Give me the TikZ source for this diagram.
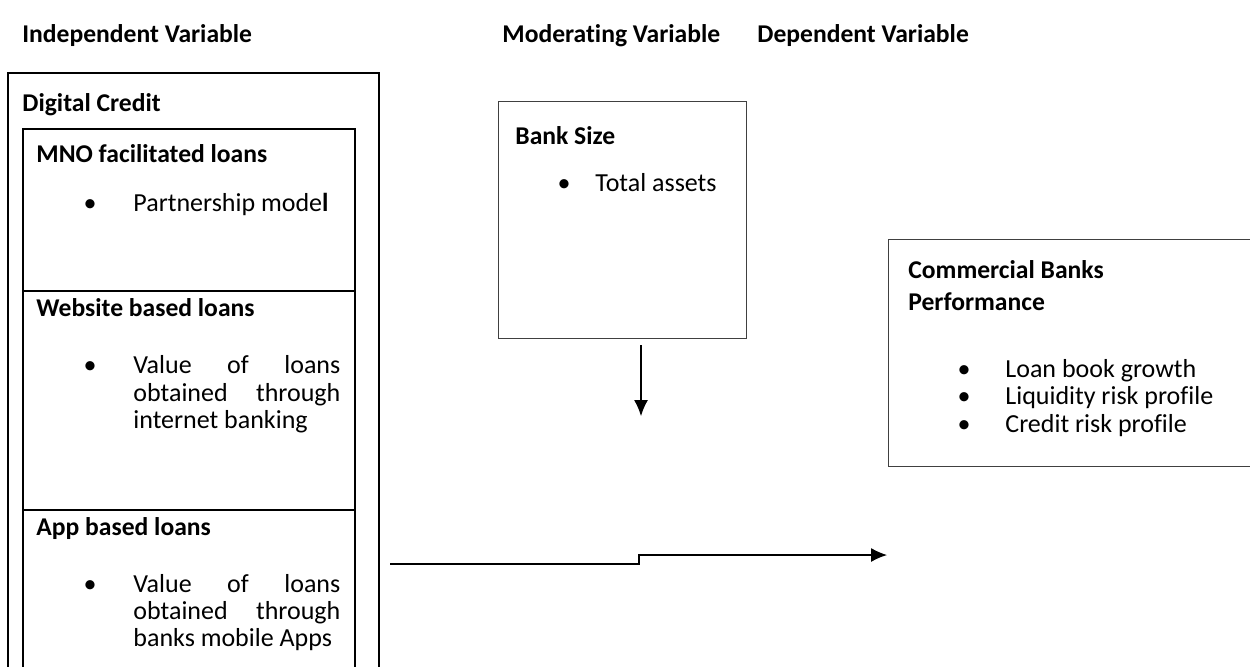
\documentclass[tikz,border=0pt]{standalone}
\usepackage{fontspec}
\setmainfont{Carlito}[Ligatures=NoCommon]
\usetikzlibrary{arrows.meta,positioning}
\newcommand{\jline}[1]{\makebox[103.5pt][s]{#1}}

\begin{document}
\begin{tikzpicture}[x=0.5pt,y=-0.5pt,
  txt/.style={anchor=base west,inner sep=0pt,font=\fontsize{13}{14}\selectfont},
  head/.style={txt,font=\fontsize{12.8}{14}\selectfont\bfseries},
  bul/.style={anchor=base,inner sep=0pt,font=\fontsize{13}{14}\selectfont},
  frame/.style={draw,line width=1pt,anchor=north west,inner sep=0pt},
  panel/.style={draw=black!75,line width=0.6pt,anchor=north west,inner sep=0pt},
  link/.style={line width=0.6pt,-{Latex[length=8pt,width=7pt]}}]
\useasboundingbox (0,0) rectangle (1250,666);
\clip (0,0) rectangle (1250,666);
%headings
  \node[head] (indep) at (22,42) {Independent Variable};
  \node[head] (moder) at (502,42) {Moderating Variable};
  \node[head] (dep) at (757,42) {Dependent Variable};
%digital credit
  \node[frame,minimum width=185.5pt,minimum height=320pt] (digital) at (7,72) {};
  \node[head] (digital-t) at (22,111) {Digital Credit};
  \node[frame,minimum width=166pt,minimum height=81pt] (mno) at (22,128) {};
  \node[frame,minimum width=166pt,minimum height=109.5pt] (web) at (22,290) {};
  \node[frame,minimum width=166pt,minimum height=100pt] (app) at (22,509) {};
%mno
  \node[head] (mno-t) at (36,162) {MNO facilitated loans};
  \node[bul] at (90,211) {\textbullet};
  \node[txt] (mno-1) at (133,211) {Partnership mode\textbf{l}};
%website
  \node[head] (web-t) at (36,316) {Website based loans};
  \node[bul] at (90,373) {\textbullet};
  \node[txt] (web-1) at (133,373) {\jline{Value of loans}};
  \node[txt] (web-2) at (133,401) {\jline{obtained through}};
  \node[txt] (web-3) at (133,428) {internet banking};
%app
  \node[head] (app-t) at (36,535) {App based loans};
  \node[bul] at (90,592) {\textbullet};
  \node[txt] (app-1) at (133,592) {\jline{Value of loans}};
  \node[txt] (app-2) at (133,619) {\jline{obtained through}};
  \node[txt] (app-3) at (133,646) {banks mobile Apps};
%bank size
  \node[panel,minimum width=124pt,minimum height=118.5pt] (bank) at (498,101) {};
  \node[head] (bank-t) at (515,144) {Bank Size};
  \node[bul] at (564,191) {\textbullet};
  \node[txt] (bank-1) at (595,191) {Total assets};
%performance
  \node[panel,minimum width=200pt,minimum height=113.5pt] (perf) at (888,239) {};
  \node[head] (perf-t1) at (908,278) {Commercial Banks};
  \node[head] (perf-t2) at (908,310) {Performance};
  \foreach \t [count=\i] in {Loan book growth, Liquidity risk profile, Credit risk profile} {
    \node[bul] at (964,{377+27.5*(\i-1)}) {\textbullet};
    \node[txt] (perf-\i) at (1005,{377+27.5*(\i-1)}) {\t};
  }
%arrows
  \coordinate (mod-s) at (641,345);
  \coordinate (mod-e) at (641,416);
  \draw[link] (mod-s) -- (mod-e);
  \coordinate (dc-s) at (390,564);
  \coordinate (dc-e) at (887,555);
  \draw[link] (dc-s) -- (639,564) |- (dc-e);
\end{tikzpicture}
\end{document}
